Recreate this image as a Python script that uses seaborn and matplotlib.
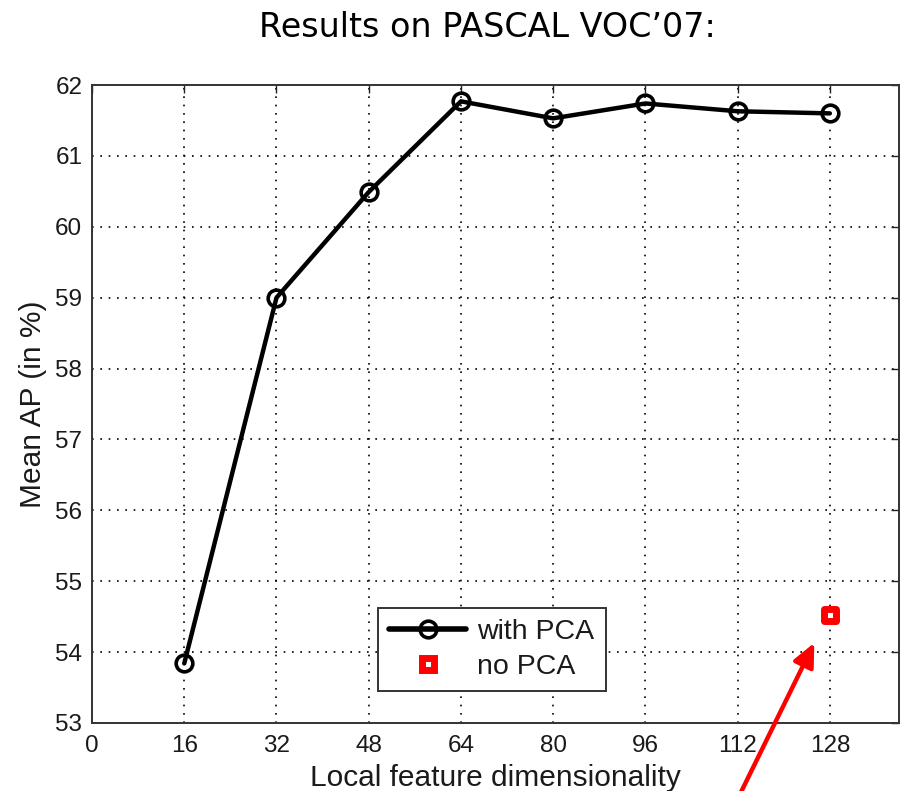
import matplotlib
matplotlib.use("Agg")
import matplotlib.pyplot as plt
import seaborn as sns
import pandas as pd
from matplotlib.lines import Line2D

# Data
dims = [16, 32, 48, 64, 80, 96, 112, 128]
map_pca = [53.84, 59.0, 60.49, 61.77, 61.53, 61.74, 61.63, 61.60]
dim_nopca = [128]
map_nopca = [54.52]
xticks = [0, 16, 32, 48, 64, 80, 96, 112, 128]
yticks = [53, 54, 55, 56, 57, 58, 59, 60, 61, 62]

sns.set_style("white")
plt.rcParams['font.family'] = ['Liberation Sans', 'DejaVu Sans']

fig = plt.figure(figsize=(9.04, 7.91), dpi=100)
ax = fig.add_axes([0.1018, 0.0860, 0.8927, 0.8065])

df = pd.DataFrame({"dim": dims, "ap": map_pca})
sns.lineplot(data=df, x="dim", y="ap", ax=ax, color="black", linewidth=3.2,
             marker="o", markersize=12, markerfacecolor="none",
             markeredgecolor="black", markeredgewidth=2.6, zorder=3)
df2 = pd.DataFrame({"dim": dim_nopca, "ap": map_nopca})
sns.scatterplot(data=df2, x="dim", y="ap", ax=ax, marker="s", s=64,
                color="white", edgecolor="red", linewidth=5, zorder=4)

ax.set_xlim(0, 140)
ax.set_ylim(53, 62)
ax.set_xticks(xticks)
ax.set_yticks(yticks)
ax.tick_params(direction="in", top=True, right=True, labelsize=17.5,
               length=6, width=1, colors="#222222")
ax.tick_params(axis="x", pad=9)
ax.tick_params(axis="y", pad=7)
for lab in ax.get_xticklabels() + ax.get_yticklabels():
    lab.set_color("#1a1a1a")
ax.grid(True, linestyle=(0, (1, 4)), color="black", linewidth=1.2)
for s in ax.spines.values():
    s.set_visible(True)
    s.set_color("#333333")
    s.set_linewidth(1.4)

ax.set_xlabel("Local feature dimensionality", fontsize=21.5, labelpad=5, color="#1a1a1a")
ax.set_ylabel("Mean AP (in %)", fontsize=21.5, labelpad=6, color="#1a1a1a")

fig.text(0.539, 0.965, "Results on PASCAL VOC\u201907:", ha="center", va="center",
         fontsize=24, family="DejaVu Sans", color="black")

handles = [
    Line2D([], [], color="black", linewidth=4, marker="o", markersize=12,
           markerfacecolor="none", markeredgecolor="black", markeredgewidth=2.6),
    Line2D([], [], linestyle="none", marker="s", markersize=8,
           markerfacecolor="white", markeredgecolor="red", markeredgewidth=5),
]
leg = ax.legend(handles, ["with PCA", "no PCA"], loc="lower left",
                bbox_to_anchor=(0.354, 0.05), fontsize=20.5, frameon=True,
                fancybox=False, framealpha=1, edgecolor="#333333",
                handlelength=2.7, handletextpad=0.4, borderpad=0.4,
                labelspacing=0.3, borderaxespad=0)
leg.get_frame().set_linewidth(1.4)
for t in leg.get_texts():
    t.set_color("#1a1a1a")

ax.annotate("", xy=(125.3, 54.13), xycoords="data",
            xytext=(0.816, -0.01), textcoords="figure fraction",
            annotation_clip=False,
            arrowprops=dict(arrowstyle="-|>,head_length=1.4,head_width=0.65",
                            color="red", linewidth=3.2, shrinkA=0, shrinkB=0))

fig.savefig("out.png", dpi=100)
